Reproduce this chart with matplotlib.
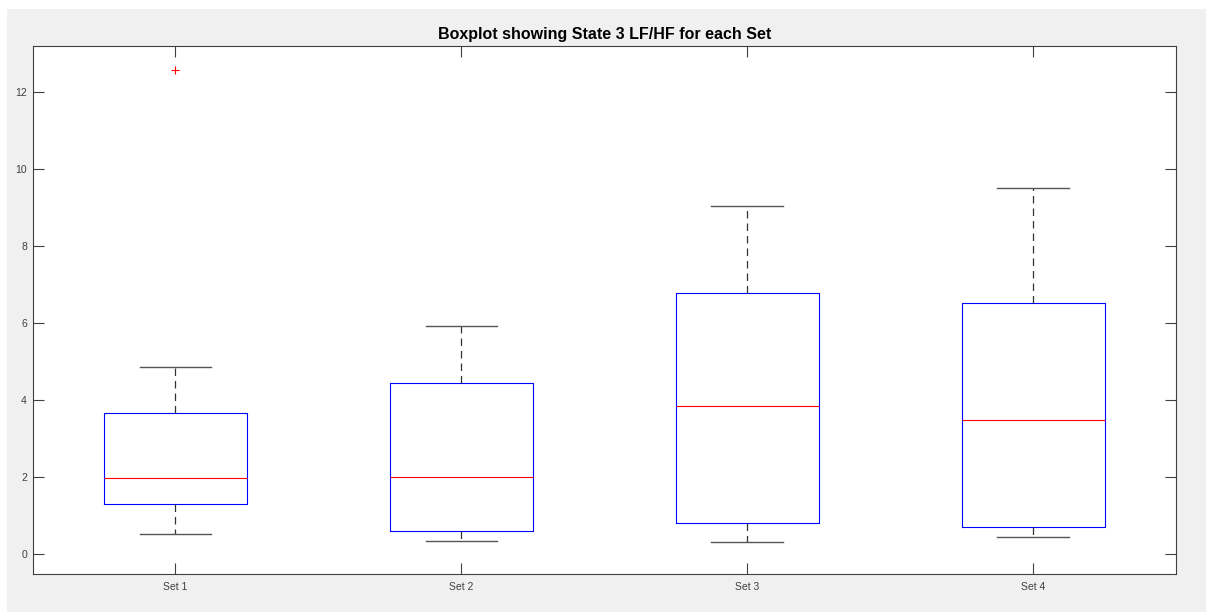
import matplotlib.pyplot as plt
from matplotlib.patches import Rectangle

# Boxplot State 3 LF/HF
labels = ['Set 1', 'Set 2', 'Set 3', 'Set 4']
whisker_low = [0.53, 0.345, 0.32, 0.44]
q1 = [1.31, 0.605, 0.82, 0.70]
median = [1.97, 2.0, 3.85, 3.49]
q3 = [3.67, 4.44, 6.79, 6.53]
whisker_high = [4.86, 5.92, 9.05, 9.52]
outliers = [[12.58], [], [], []]

stats = []
for i in range(len(labels)):
    stats.append({'label': labels[i], 'whislo': whisker_low[i], 'q1': q1[i],
                  'med': median[i], 'q3': q3[i], 'whishi': whisker_high[i],
                  'fliers': outliers[i]})

plt.rcParams['font.family'] = ['Liberation Sans', 'DejaVu Sans']

fig = plt.figure(figsize=(12.06, 6.12), dpi=100, facecolor='white')
# latar abu-abu ala MATLAB
fig.patches.append(Rectangle((7 / 1206, 0), 1, 603 / 612, transform=fig.transFigure,
                             facecolor='#f0f0f0', edgecolor='none', zorder=-1))

ax = fig.add_axes([32.5 / 1206, 1 - 574 / 612, (1176 - 32.5) / 1206, (574 - 46) / 612])
ax.set_facecolor('white')

ax.bxp(stats, positions=[1, 2, 3, 4], widths=0.5, showfliers=True,
       boxprops=dict(color='#0000ff', linewidth=0.8),
       medianprops=dict(color='#ff0000', linewidth=0.8),
       whiskerprops=dict(color='#333333', linewidth=0.9, linestyle=(0, (6, 4))),
       capprops=dict(color='#555555', linewidth=1.0),
       flierprops=dict(marker='+', markeredgecolor='#ff0000', markeredgewidth=0.8,
                       markersize=6, linestyle='none'),
       capwidths=0.25)

ax.set_xlim(0.5, 4.5)
ax.set_ylim(-0.51, 13.2)
ax.set_yticks([0, 2, 4, 6, 8, 10, 12])
ax.set_xticks([1, 2, 3, 4])
ax.set_xticklabels(labels)

for s in ax.spines.values():
    s.set_color('#404040')
    s.set_linewidth(0.8)

ax.tick_params(direction='in', length=8, width=0.8, color='#404040',
               labelsize=7.5, labelcolor='#404040',
               top=True, right=True, bottom=True, left=True)
ax.tick_params(axis='y', pad=4)
ax.tick_params(axis='x', pad=6)

ax.set_title('Boxplot showing State 3 LF/HF for each Set', fontsize=11.5,
             fontweight='bold', color='black', pad=5)

fig.savefig('out.png', dpi=100, facecolor=fig.get_facecolor())
